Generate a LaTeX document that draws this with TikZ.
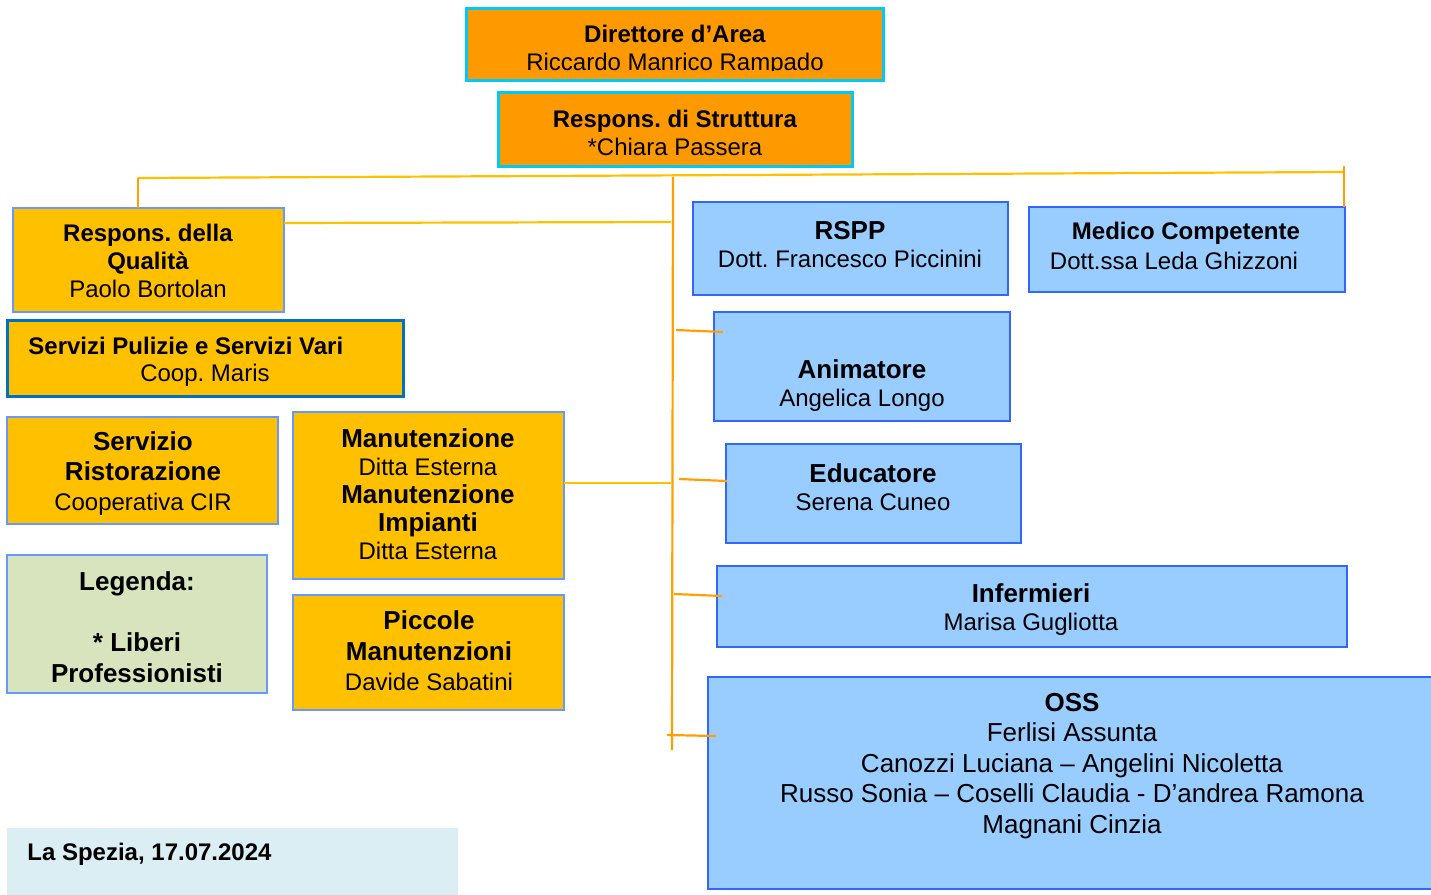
\documentclass[tikz,border=0pt]{standalone}
\usepackage{fontspec}
\setmainfont{Liberation Sans}
\frenchspacing
\definecolor{topF}{HTML}{FF9900}
\definecolor{topB}{HTML}{00C8F8}
\definecolor{goldF}{HTML}{FFC000}
\definecolor{goldB}{HTML}{6699FF}
\definecolor{puliB}{HTML}{0070C0}
\definecolor{skyF}{HTML}{99CCFF}
\definecolor{skyB}{HTML}{3366FF}
\definecolor{legF}{HTML}{D7E4BD}
\definecolor{dateF}{HTML}{DAEEF3}
\definecolor{lineG}{HTML}{FFC000}
\definecolor{lineO}{HTML}{FFA000}
\newcommand\ftA{\fontsize{12}{14}\selectfont}
\newcommand\ftB{\fontsize{13}{15.25}\selectfont}
\begin{document}
\begin{tikzpicture}[x=0.5pt,y=-0.5pt,
  box/.style={anchor=north west,inner sep=0pt,outer sep=0pt},
  topbox/.style={box,fill=topF,draw=topB,line width=1.5pt},
  goldbox/.style={box,fill=goldF,draw=goldB,line width=0.8pt},
  skybox/.style={box,fill=skyF,draw=skyB,line width=1.3pt},
  txt/.style={align=center,inner sep=0pt,font=\ftA},
  txtB/.style={align=center,inner sep=0pt,font=\ftB},
  gline/.style={draw=lineG,line width=1.1pt},
  oline/.style={draw=lineO,line width=1.1pt}]
\useasboundingbox (0,0) rectangle (1431,895);

% ---- boxes
\node[topbox,minimum width=208.5pt,minimum height=36pt] (dir) at (466,8) {};
\node[topbox,minimum width=177pt,minimum height=37pt] (rds) at (498,92) {};
\node[goldbox,minimum width=135.5pt,minimum height=52pt] (qual) at (13,208) {};
\node[goldbox,draw=puliB,line width=1.5pt,minimum width=198pt,minimum height=38pt] (puli) at (7,320) {};
\node[skybox,minimum width=157.5pt,minimum height=46.5pt] (rspp) at (693,202) {};
\node[skybox,minimum width=158pt,minimum height=42.5pt] (med) at (1029,207) {};
\node[skybox,minimum width=148pt,minimum height=54.5pt] (anim) at (714,312) {};
\node[skybox,minimum width=147.5pt,minimum height=49.5pt] (educ) at (726,444) {};
\node[skybox,minimum width=315pt,minimum height=40.5pt] (inf) at (717,566) {};
\node[skybox,minimum width=363pt,minimum height=106pt] (oss) at (708,677) {};
\node[goldbox,minimum width=135.5pt,minimum height=53.5pt] (rist) at (7,417) {};
\node[goldbox,minimum width=135.5pt,minimum height=83.5pt] (manu) at (293,412) {};
\node[goldbox,fill=legF,minimum width=130pt,minimum height=69pt] (leg) at (7,555) {};
\node[goldbox,minimum width=135.5pt,minimum height=57.5pt] (picc) at (293,595) {};
\node[box,fill=dateF,minimum width=225.5pt,minimum height=33.5pt] (date) at (7,828) {};

% ---- texts
\begin{scope}
\clip (dir.north west) rectangle (dir.east |- 0,70);
\node[txt] (tdir) at (675,50) {\textbf{Direttore d’Area}\\Riccardo Manrico Rampado};
\end{scope}
\node[txt] (trds) at (675,133) {\textbf{Respons. di Struttura}\\*Chiara Passera};
\node[txt] (tqual) at (148,261) {\textbf{Respons. della}\\\textbf{Qualità}\\Paolo Bortolan};
\node[txt,anchor=west] (tpuliA) at (28,346) {\textbf{Servizi Pulizie e Servizi Vari}};
\node[txt] (tpuliB) at (205,375) {Coop. Maris};
\node[txt] (trspp) at (850,245) {{\ftB\bfseries RSPP}\\Dott. Francesco Piccinini};
\node[txt] (tmedA) at (1186,233) {\textbf{Medico Competente}};
\node[txt] (tmedB) at (1174,261) {Dott.ssa Leda Ghizzoni};
\node[txt] (tanim) at (862,386) {{\ftB\bfseries Animatore}\\Angelica Longo};
\node[txt] (teduc) at (873,487) {{\ftB\bfseries Educatore}\\Serena Cuneo};
\node[txt] (tinf) at (1031,610) {{\ftB\bfseries Infermieri}\\Marisa Gugliotta};
\node[txtB] (toss) at (1072,766) {\textbf{OSS}\\Ferlisi Assunta\\Canozzi Luciana – Angelini Nicoletta\\Russo Sonia – Coselli Claudia - D’andrea Ramona\\Magnani Cinzia};
\node[txt,font=\fontsize{12}{15}\selectfont] (trist) at (143,474) {{\ftB\bfseries Servizio}\\{\ftB\bfseries Ristorazione}\\Cooperativa CIR};
\node[txt] (tmanu) at (428,494) {{\ftB\bfseries Manutenzione}\\Ditta Esterna\\{\ftB\bfseries Manutenzione}\\{\ftB\bfseries Impianti}\\Ditta Esterna};
\node[txtB,font=\fontsize{13}{15.4}\selectfont] (tleg) at (137,627) {\textbf{Legenda:}\\[15.4pt]\textbf{* Liberi}\\\textbf{Professionisti}};
\node[txt,font=\fontsize{12}{15.25}\selectfont] (tpicc) at (429,651) {{\ftB\bfseries Piccole}\\{\ftB\bfseries Manutenzioni}\\Davide Sabatini};
\node[txt,anchor=west] (tdate) at (27,854) {\textbf{La Spezia, 17.07.2024}};

% ---- connectors
\coordinate (hL) at (138,178);
\coordinate (hR) at (1344,172);
\coordinate (hRtop) at (1344,166);
\coordinate (tT) at (673,177);
\coordinate (tB) at (672,750);
\coordinate (qEnd) at (671,222);
\coordinate (aS) at (676,330);
\coordinate (aE) at (723,332);
\coordinate (mEnd) at (671,483);
\coordinate (eS) at (679,479);
\coordinate (eE) at (727,481);
\coordinate (iS) at (674,594);
\coordinate (iE) at (722,596);
\coordinate (oS) at (667,735);
\coordinate (oE) at (716,736);

\draw[gline] (hL) -- (hR);
\draw[oline] (hL) -- (hL |- qual.north);
\draw[oline] (hRtop) -- (hRtop |- med.north);
\draw[oline] (tT) -- (tB);
\draw[gline] (qual.east |- 0,223) -- (qEnd);
\draw[oline] (aS) -- (aE);
\draw[gline] (manu.east |- 0,483) -- (mEnd);
\draw[oline] (eS) -- (eE);
\draw[oline] (iS) -- (iE);
\draw[oline] (oS) -- (oE);
\end{tikzpicture}
\end{document}
